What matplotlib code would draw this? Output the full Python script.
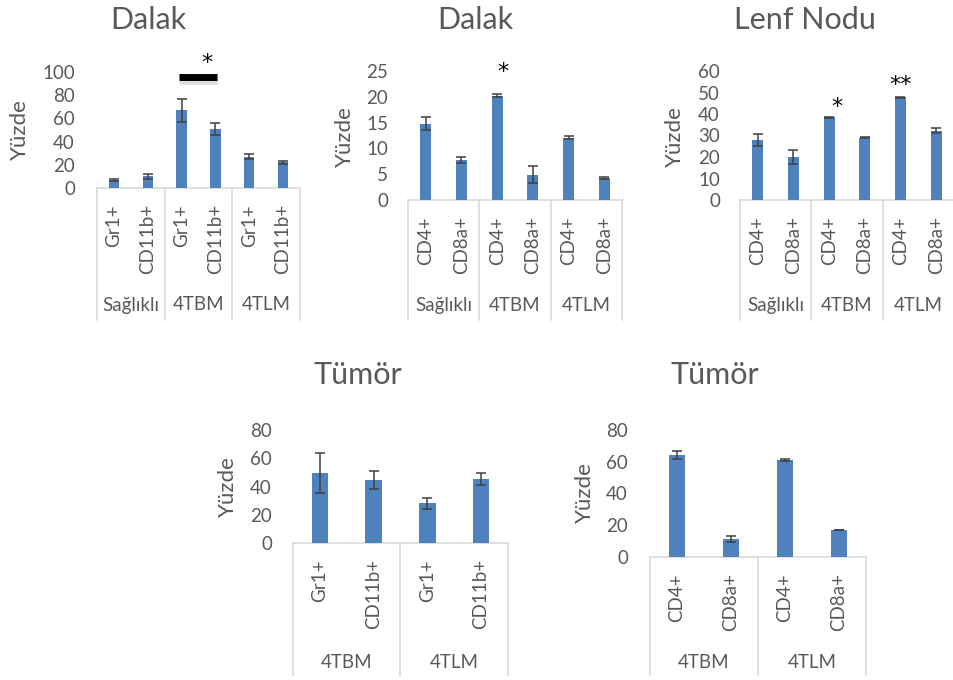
import matplotlib
matplotlib.use('Agg')
import matplotlib.pyplot as plt
import matplotlib.transforms as mtransforms
import numpy as np

# ---- data -------------------------------------------------------------
mye_markers = ['Gr1+', 'CD11b+']
lenf_markers = ['CD4+', 'CD8a+']
groups3 = ['Sağlıklı', '4TBM', '4TLM']
groups2 = ['4TBM', '4TLM']

dalak_mye_vals = [7, 10, 67, 51, 27, 22]
dalak_mye_err = [1, 2, 10, 5, 2, 1.5]

dalak_lenf_vals = [14.8, 7.8, 20.2, 4.9, 12.1, 4.3]
dalak_lenf_err = [1.3, 0.6, 0.3, 1.6, 0.25, 0.2]

lenf_nodu_vals = [28, 20, 38.5, 29, 47.8, 32.3]
lenf_nodu_err = [2.7, 3.4, 0.3, 0.3, 0.3, 1.2]

tumor_mye_vals = [49.5, 44.5, 28, 45.5]
tumor_mye_err = [14, 6.5, 3.8, 4.2]

tumor_lenf_vals = [64, 11.5, 61, 17]
tumor_lenf_err = [2.5, 1.8, 0.8, 0.3]

# ---- style ------------------------------------------------------------
W, H = 954, 680
BAR = '#4F81BD'
ERR = '#404040'
TXT = '#595959'
GRID = '#D9D9D9'
FONT = ['Lato', 'DejaVu Sans']

plt.rcParams.update({
    'font.family': FONT,
    'text.color': TXT,
    'ytick.color': TXT,
})

fig = plt.figure(figsize=(W / 100, H / 100), dpi=100)


def px(x, y):
    return x / W, 1 - y / H


def panel(left, right, y0, ytop, bottom, ymax, step, vals, errs,
          markers, groups, title, title_xy, ylab_xy, group_y, tick_pad):
    x0, fy0 = px(left, y0)
    ax = fig.add_axes([x0, fy0, (right - left) / W, (y0 - ytop) / H])
    n = len(vals)
    xs = np.arange(n)
    ax.bar(xs, vals, width=0.31, color=BAR, edgecolor='none', zorder=2)
    ax.errorbar(xs, vals, yerr=errs, fmt='none', ecolor=ERR,
                elinewidth=1.1, capsize=3.3, capthick=1.1, zorder=3)
    ax.set_xlim(-0.5, n - 0.5)
    ax.set_ylim(0, ymax)
    ax.set_yticks(np.arange(0, ymax + step / 2, step))
    ax.tick_params(axis='y', length=0, pad=tick_pad * 0.72, labelsize=13.5)
    ax.set_xticks([])
    for s in ax.spines.values():
        s.set_visible(False)

    hpx = y0 - ytop
    tr = ax.get_xaxis_transform()
    yb = -(bottom - y0) / hpx
    # category box below the zero line
    ax.plot([-0.5, n - 0.5], [0, 0], color=GRID, lw=1.2, transform=tr,
            clip_on=False, zorder=1)
    per = len(markers)
    for k in range(len(groups) + 1):
        xb = -0.5 + k * per
        ax.plot([xb, xb], [0, yb], color=GRID, lw=1.2, transform=tr,
                clip_on=False)
    for i in range(n):
        ax.text(i, -16 / hpx, markers[i % per], transform=tr, rotation=90,
                ha='center', va='top', fontsize=13.5, color=TXT)
    for k, g in enumerate(groups):
        ax.text(-0.5 + per * k + per / 2, -(group_y - y0) / hpx, g,
                transform=tr, ha='center', va='center', fontsize=13.5,
                color=TXT)

    fig.text(*px(*title_xy), title, ha='center', va='center',
             fontsize=22, color=TXT)
    fig.text(*px(*ylab_xy), 'Yüzde', ha='center', va='center',
             rotation=90, fontsize=16, color=TXT)
    return ax


ax1 = panel(97, 300, 188, 72, 320, 100, 20, dalak_mye_vals, dalak_mye_err,
            mye_markers, groups3, 'Dalak', (148, 20), (20, 130), 305, 22)
ax2 = panel(408, 622, 200, 71, 320, 25, 5, dalak_lenf_vals, dalak_lenf_err,
            lenf_markers, groups3, 'Dalak', (475, 20), (345, 137), 305, 20)
ax3 = panel(740, 954, 200, 71, 320, 60, 10, lenf_nodu_vals, lenf_nodu_err,
            lenf_markers, groups3, 'Lenf Nodu', (805, 20), (675, 137), 305, 20)
ax4 = panel(293, 508, 543, 430, 675, 80, 20, tumor_mye_vals, tumor_mye_err,
            mye_markers, groups2, 'Tümör', (358, 375), (228, 487), 662, 21)
ax5 = panel(650, 866, 557, 430, 675, 80, 20, tumor_lenf_vals, tumor_lenf_err,
            lenf_markers, groups2, 'Tümör', (715, 375), (585, 493), 662, 22)

# significance marks
shadow = ax1.transData + mtransforms.ScaledTranslation(
    0.5 / 72, -2 / 72, fig.dpi_scale_trans)
ax1.plot([1.92, 3.05], [95.5, 95.5], color='#BBBBBB', lw=7, alpha=0.5,
         solid_capstyle='butt', clip_on=False, zorder=4, transform=shadow)
ax1.plot([1.92, 3.05], [95.5, 95.5], color='black', lw=5,
         solid_capstyle='butt', clip_on=False, zorder=5)
star_kw = dict(ha='center', va='center', fontsize=16, color='black',
               clip_on=False, family=['DejaVu Sans'])
ax1.text(2.75, 107.8, '*', **star_kw)
ax2.text(2.16, 24.8, '*', **star_kw)
ax3.text(2.22, 43.3, '*', **star_kw)
ax3.text(4.0, 53.5, '**', **star_kw)

fig.savefig('out.png', dpi=100, facecolor='white')
